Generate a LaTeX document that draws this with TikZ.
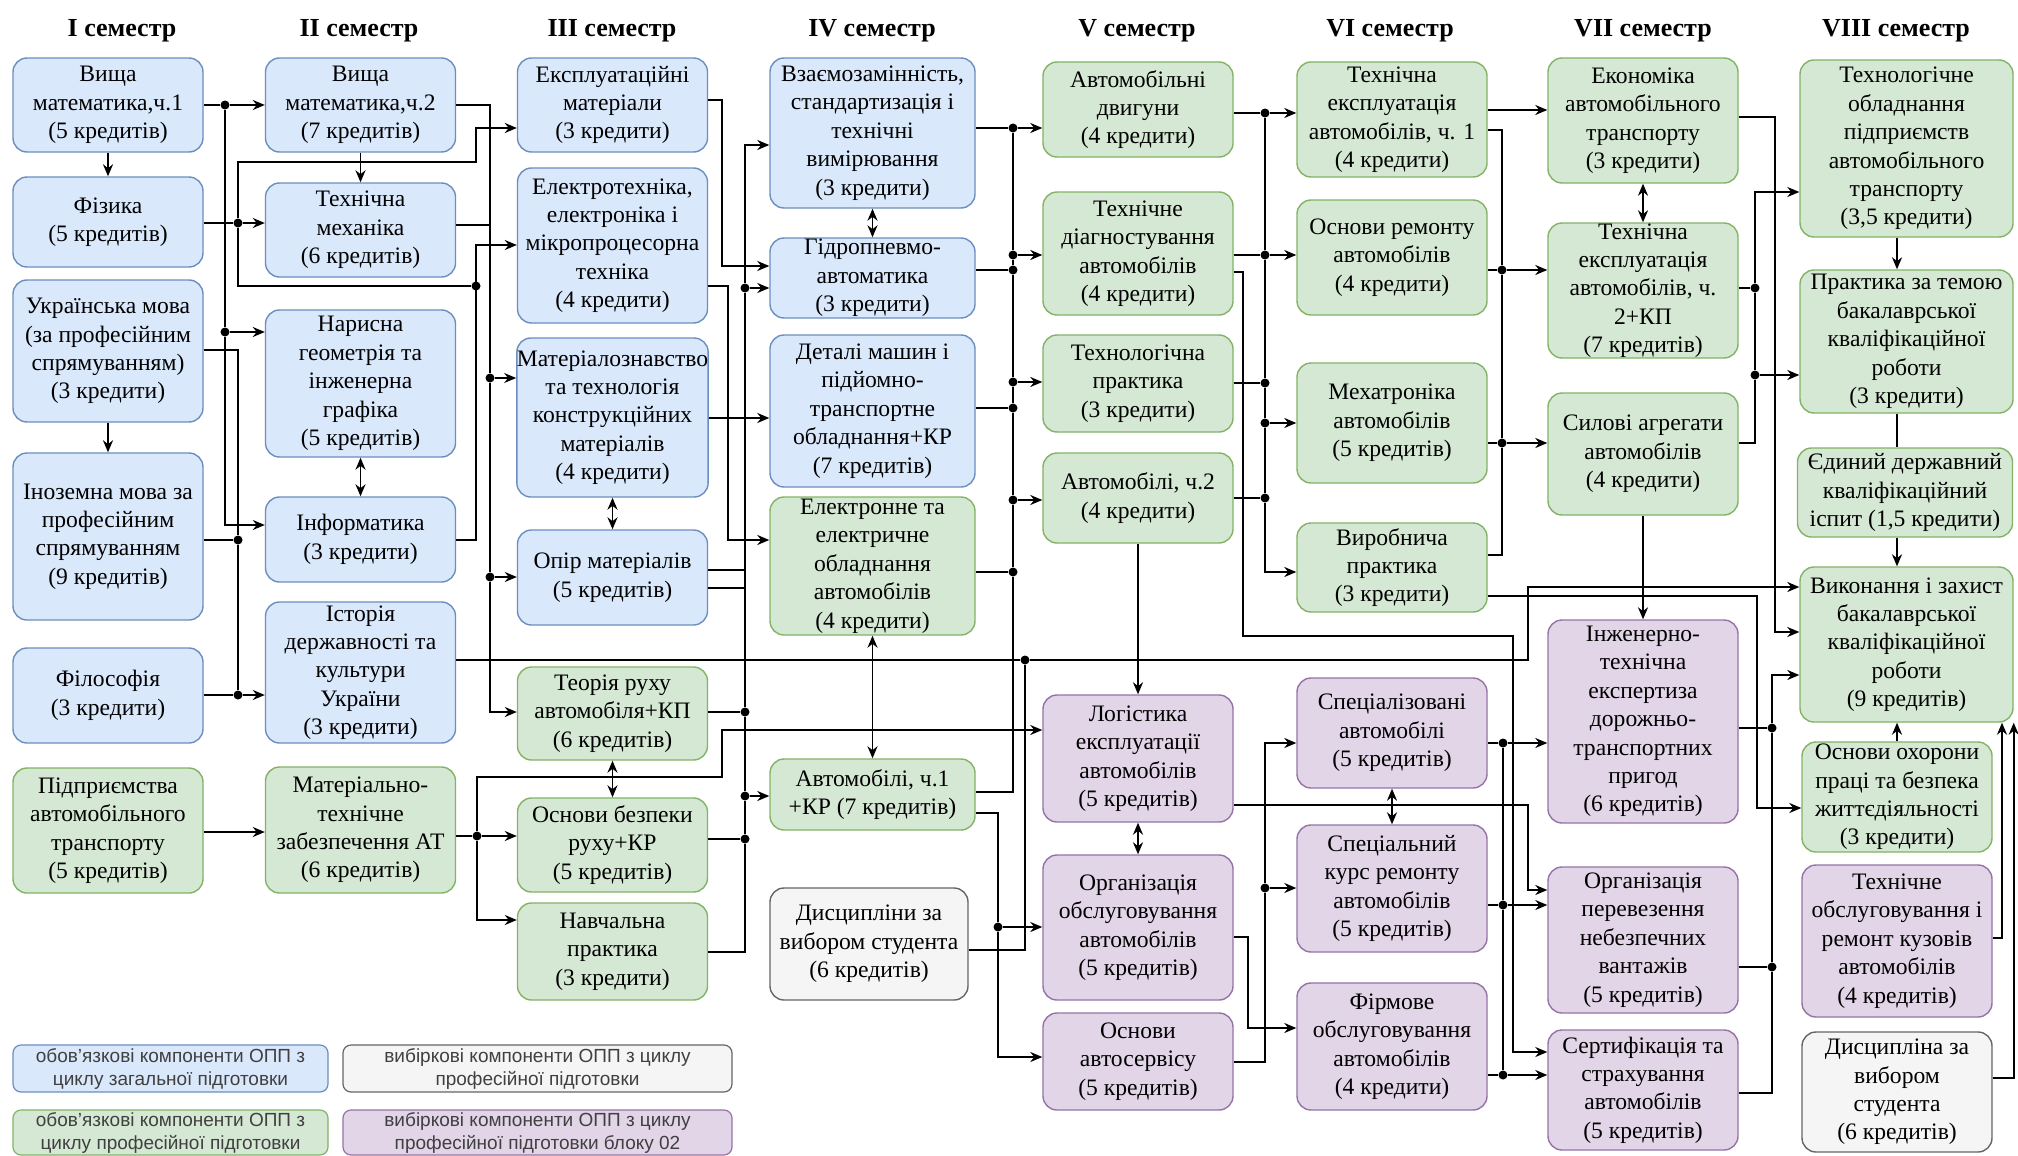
\documentclass[tikz,border=0pt]{standalone}
\usepackage{fontspec}
\setmainfont{Liberation Serif}
\setsansfont{Liberation Sans}
\usetikzlibrary{arrows.meta,positioning}
\definecolor{genFill}{HTML}{DAE8FC}
\definecolor{genLine}{HTML}{6C8EBF}
\definecolor{profFill}{HTML}{D5E8D4}
\definecolor{profLine}{HTML}{82B366}
\definecolor{vibFill}{HTML}{E1D5E7}
\definecolor{vibLine}{HTML}{9673A6}
\definecolor{freeFill}{HTML}{F5F5F5}
\definecolor{freeLine}{HTML}{666666}

\begin{document}
\begin{tikzpicture}[x=0.5pt,y=-0.5pt,
    box/.style={rounded corners=7pt, line width=0.7pt, align=center, inner sep=0pt,
      font=\fontsize{11.8}{14.2}\selectfont, minimum width=95pt},
    gen/.style={box, draw=genLine, fill=genFill},
    prof/.style={box, draw=profLine, fill=profFill},
    vib/.style={box, draw=vibLine, fill=vibFill},
    free/.style={box, draw=freeLine, fill=freeFill},
    hdr/.style={font=\fontsize{13}{15}\selectfont\bfseries},
    leg/.style={rounded corners=4pt, line width=0.6pt, align=center, inner sep=0pt,
      font=\sffamily\fontsize{9.5}{11.5}\selectfont, text=black!75},
    wire/.style={line width=0.9pt},
    jdot/.style={circle, fill, inner sep=0pt, minimum size=4.5pt},
    >={Stealth[length=6pt,width=5pt]}
  ]
  \fill[white] (0,0) rectangle (2018,1156);
  \useasboundingbox (0,0) rectangle (2018,1156);

  \node[hdr] (sem1) at (122,31) {I семестр};
  \node[hdr] (sem2) at (359,31) {II семестр};
  \node[hdr] (sem3) at (612,31) {III семестр};
  \node[hdr] (sem4) at (872,31) {IV семестр};
  \node[hdr] (sem5) at (1137,31) {V семестр};
  \node[hdr] (sem6) at (1390,31) {VI семестр};
  \node[hdr] (sem7) at (1643,31) {VII семестр};
  \node[hdr] (sem8) at (1896,31) {VIII семестр};

  \node[gen, minimum height=47pt] (vm1) at (108,105) {Вища\\математика,ч.1\\(5 кредитів)};
  \node[gen, minimum height=45pt] (fiz) at (108,222) {Фізика\\(5 кредитів)};
  \node[gen, minimum height=71pt] (ukr) at (108,351) {Українська мова\\(за професійним\\спрямуванням)\\(3 кредити)};
  \node[gen, minimum height=83.5pt] (inoz) at (108,536.5) {Іноземна мова за\\професійним\\спрямуванням\\(9 кредитів)};
  \node[gen, minimum height=47.5pt] (fil) at (108,695.5) {Філософія\\(3 кредити)};
  \node[prof, minimum height=62.5pt] (pidpr) at (108,830.5) {Підприємства\\автомобільного\\транспорту\\(5 кредитів)};

  \node[gen, minimum height=47pt] (vm2) at (360.5,105) {Вища\\математика,ч.2\\(7 кредитів)};
  \node[gen, minimum height=47pt] (tmech) at (360.5,230) {Технічна\\механіка\\(6 кредитів)};
  \node[gen, minimum height=73.5pt] (nar) at (360.5,383.5) {Нарисна\\геометрія та\\інженерна\\графіка\\(5 кредитів)};
  \node[gen, minimum height=42.5pt] (inf) at (360.5,539.5) {Інформатика\\(3 кредити)};
  \node[gen, minimum height=70.5pt] (ist) at (360.5,672.5) {Історія\\державності та\\культури\\України\\(3 кредити)};
  \node[prof, minimum height=63pt] (mattex) at (360.5,830) {Матеріально-\\технічне\\забезпечення АТ\\(6 кредитів)};

  \node[gen, minimum height=47pt] (ekspl) at (612.5,105) {Експлуатаційні\\матеріали\\(3 кредити)};
  \node[gen, minimum height=77.5pt] (elektr) at (612.5,245.5) {Електротехніка,\\електроніка і\\мікропроцесорна\\техніка\\(4 кредити)};
  \node[gen, minimum height=79.5pt] (matzn) at (612.5,417.5) {Матеріалознавство\\та технологія\\конструкційних\\матеріалів\\(4 кредити)};
  \node[gen, minimum height=47.5pt] (opir) at (612.5,577.5) {Опір матеріалів\\(5 кредитів)};
  \node[prof, minimum height=46.5pt] (teor) at (612.5,713.5) {Теорія руху\\автомобіля+КП\\(6 кредитів)};
  \node[prof, minimum height=47pt] (bezp) at (612.5,845) {Основи безпеки\\руху+КР\\(5 кредитів)};
  \node[prof, minimum height=48.5pt] (navch) at (612.5,951.5) {Навчальна\\практика\\(3 кредити)};

  \node[gen, minimum width=102.5pt, minimum height=75pt] (vzaem) at (872.5,133) {Взаємозамінність,\\стандартизація і\\технічні\\вимірювання\\(3 кредити)};
  \node[gen, minimum width=102.5pt, minimum height=40pt] (gidro) at (872.5,278) {Гідропневмо-\\автоматика\\(3 кредити)};
  \node[gen, minimum width=102.5pt, minimum height=76pt] (detal) at (872.5,411) {Деталі машин і\\підйомно-\\транспортне\\обладнання+КР\\(7 кредитів)};
  \node[prof, minimum width=102.5pt, minimum height=69pt] (elobl) at (872.5,566) {Електронне та\\електричне\\обладнання\\автомобілів\\(4 кредити)};
  \node[prof, minimum width=102.5pt, minimum height=35.5pt] (avto1) at (872.5,794.5) {Автомобілі, ч.1\\+КР (7 кредитів)};
  \node[free, minimum width=99pt, minimum height=56pt] (dysc4) at (869,944) {Дисципліни за\\вибором студента\\(6 кредитів)};

  \node[prof, minimum height=47.5pt] (dvyg) at (1138,109.5) {Автомобільні\\двигуни\\(4 кредити)};
  \node[prof, minimum height=61.5pt] (diag) at (1138,253.5) {Технічне\\діагностування\\автомобілів\\(4 кредити)};
  \node[prof, minimum height=48.5pt] (techpr) at (1138,383.5) {Технологічна\\практика\\(3 кредити)};
  \node[prof, minimum height=45pt] (avto2) at (1138,498) {Автомобілі, ч.2\\(4 кредити)};
  \node[vib, minimum height=63.5pt] (logist) at (1138,758.5) {Логістика\\експлуатації\\автомобілів\\(5 кредитів)};
  \node[vib, minimum height=72.5pt] (orgob) at (1138,927.5) {Організація\\обслуговування\\автомобілів\\(5 кредитів)};
  \node[vib, minimum height=48.5pt] (servis) at (1138,1061.5) {Основи\\автосервісу\\(5 кредитів)};

  \node[prof, minimum height=57.5pt] (teh1) at (1392,119.5) {Технічна\\експлуатація\\автомобілів, ч. 1\\(4 кредити)};
  \node[prof, minimum height=57.5pt] (remont) at (1392,257.5) {Основи ремонту\\автомобілів\\(4 кредити)};
  \node[prof, minimum height=60pt] (mehatr) at (1392,423) {Мехатроніка\\автомобілів\\(5 кредитів)};
  \node[prof, minimum height=44.5pt] (vyrob) at (1392,567.5) {Виробнича\\практика\\(3 кредити)};
  \node[vib, minimum height=55pt] (specav) at (1392,733) {Спеціалізовані\\автомобілі\\(5 кредитів)};
  \node[vib, minimum height=63.5pt] (speckurs) at (1392,888.5) {Спеціальний\\курс ремонту\\автомобілів\\(5 кредитів)};
  \node[vib, minimum height=63.5pt] (firm) at (1392,1046.5) {Фірмове\\обслуговування\\автомобілів\\(4 кредити)};

  \node[prof, minimum height=62.5pt] (ekon) at (1643,120.5) {Економіка\\автомобільного\\транспорту\\(3 кредити)};
  \node[prof, minimum height=67.5pt] (teh2) at (1643,290.5) {Технічна\\експлуатація\\автомобілів, ч.\\2+КП\\(7 кредитів)};
  \node[prof, minimum height=61pt] (sylovi) at (1643,454) {Силові агрегати\\автомобілів\\(4 кредити)};
  \node[vib, minimum height=101.5pt] (expert) at (1643,721.5) {Інженерно-\\технічна\\експертиза\\дорожньо-\\транспортних\\пригод\\(6 кредитів)};
  \node[vib, minimum height=73pt] (nebezp) at (1643,940) {Організація\\перевезення\\небезпечних\\вантажів\\(5 кредитів)};
  \node[vib, minimum height=60pt] (sertyf) at (1643,1090) {Сертифікація та\\страхування\\автомобілів\\(5 кредитів)};

  \node[prof, minimum width=106.5pt, minimum height=88.5pt] (tehobl) at (1906.5,148.5) {Технологічне\\обладнання\\підприємств\\автомобільного\\транспорту\\(3,5 кредити)};
  \node[prof, minimum width=106.5pt, minimum height=71.5pt] (praktyka) at (1906.5,341.5) {Практика за темою\\бакалаврської\\кваліфікаційної\\роботи\\(3 кредити)};
  \node[prof, minimum width=107.5pt, minimum height=44.5pt] (yedyn) at (1905,492.5) {Єдиний державний\\кваліфікаційний\\іспит (1,5 кредити)};
  \node[prof, minimum width=106.5pt, minimum height=77.5pt] (vykon) at (1906.5,644.5) {Виконання і захист\\бакалаврської\\кваліфікаційної\\роботи\\(9 кредитів)};
  \node[prof, minimum height=55pt] (ohorona) at (1897,797) {Основи охорони\\праці та безпека\\життєдіяльності\\(3 кредити)};
  \node[vib, minimum height=76pt] (kuzov) at (1897,941) {Технічне\\обслуговування і\\ремонт кузовів\\автомобілів\\(4 кредитів)};
  \node[free, minimum height=60pt] (dysc8) at (1897,1092) {Дисципліна за\\вибором\\студента\\(6 кредитів)};

  \node[leg, draw=genLine, fill=genFill, minimum width=157.5pt, minimum height=23.5pt] (lg1) at (170.5,1068.5) {обов'язкові компоненти ОПП з\\циклу загальної підготовки};
  \node[leg, draw=freeLine, fill=freeFill, minimum width=194.5pt, minimum height=23.5pt] (lg2) at (537.5,1068.5) {вибіркові компоненти ОПП з циклу\\професійної підготовки};
  \node[leg, draw=profLine, fill=profFill, minimum width=157.5pt, minimum height=22.5pt] (lg3) at (170.5,1132.5) {обов'язкові компоненти ОПП з\\циклу професійної підготовки};
  \node[leg, draw=vibLine, fill=vibFill, minimum width=194.5pt, minimum height=22.5pt] (lg4) at (537.5,1132.5) {вибіркові компоненти ОПП з циклу\\професійної підготовки блоку 02};

  \draw[wire,->] (vm1.south) -- (fiz.north);
  \draw[wire,->] (ukr.south) -- (inoz.north);
  \draw[wire,->] (vm2.south) -- (tmech.north);
  \draw[wire,<->] (nar.south) -- (inf.north);
  \draw[wire,<->] (matzn.south) -- (opir.north);
  \draw[wire,<->] (teor.south) -- (bezp.north);
  \draw[wire,<->] (vzaem.south) -- (gidro.north);
  \draw[wire,<->] (elobl.south) -- (avto1.north);
  \draw[wire,->] (avto2.south) -- (logist.north);
  \draw[wire,<->] (logist.south) -- (orgob.north);
  \draw[wire,<->] (specav.south) -- (speckurs.north);
  \draw[wire,<->] (ekon.south) -- (teh2.north);
  \draw[wire,->] (sylovi.south) -- (expert.north);
  \draw[wire,->] (tehobl.south -| ohorona) -- (praktyka.north -| ohorona);
  \draw[wire] (praktyka.south -| ohorona) -- (yedyn.north -| ohorona);
  \draw[wire,->] (yedyn.south -| ohorona) -- (vykon.north -| ohorona);
  \draw[wire,->] (ohorona.north) -- (vykon.south -| ohorona);

  \node[jdot] (a1) at (225,105) {};
  \node[jdot] (a2) at (225,332) {};
  \draw[wire] (vm1.east) -- (a1) -- (a2);
  \draw[wire,->] (a1) -- (vm2.west);
  \draw[wire,->] (a2) -- (nar.west |- a2);
  \draw[wire,->] (a2) |- (inf.west |- 0,525);

  \node[jdot] (b1) at (238,223) {};
  \node[jdot] (b2) at (476,286) {};
  \draw[wire] (fiz.east |- b1) -- (b1);
  \draw[wire,->] (b1) -- (tmech.west |- b1);
  \draw[wire,->] (b1) |- (476,162) |- (ekspl.west |- 0,128);
  \draw[wire] (b1) |- (b2);
  \draw[wire,->] (inf.east |- 0,540) -| (476,245) -- (elektr.west |- 0,245);

  \node[jdot] (c1) at (238,540) {};
  \node[jdot] (c2) at (238,695) {};
  \draw[wire] (ukr.east |- 0,350) -| (c1);
  \draw[wire] (inoz.east |- c1) -- (c1) -- (c2);
  \draw[wire] (fil.east |- c2) -- (c2);
  \draw[wire,->] (c2) -- (ist.west |- c2);

  \node[jdot] (d1) at (490,378) {};
  \node[jdot] (d2) at (490,577) {};
  \draw[wire] (vm2.east) -| (d1);
  \draw[wire] (tmech.east |- 0,225) -- (490,225);
  \draw[wire,->] (d1) -- (matzn.west |- d1);
  \draw[wire] (d1) -- (d2);
  \draw[wire,->] (d2) -- (opir.west |- d2);
  \draw[wire,->] (d2) |- (teor.west |- 0,712);

  \node[jdot] (e1) at (1025,660) {};
  \draw[wire] (ist.east |- e1) -- (e1);
  \draw[wire,->] (e1) -| (1528,587) -- (vykon.west |- 0,587);
  \draw[wire] (dysc4.east |- 0,950) -| (e1);

  \node[jdot] (f1) at (477,836) {};
  \draw[wire,->] (pidpr.east |- 0,832) -- (mattex.west |- 0,832);
  \draw[wire] (mattex.east |- f1) -- (f1);
  \draw[wire,->] (f1) -- (bezp.west |- f1);
  \draw[wire,->] (f1) |- (navch.west |- 0,920);
  \draw[wire,->] (f1) |- (722,777) |- (logist.west |- 0,730);

  \draw[wire,->] (ekspl.east |- 0,100) -| (722,266) -- (gidro.west |- 0,266);
  \draw[wire,->] (elektr.east |- 0,286) -| (728,540) -- (elobl.west |- 0,540);
  \draw[wire,->] (matzn.east |- 0,418) -- (detal.west |- 0,418);

  \node[jdot] (g1) at (745,288) {};
  \node[jdot] (g2) at (745,712) {};
  \node[jdot] (g3) at (745,796) {};
  \node[jdot] (g4) at (745,839) {};
  \draw[wire,->] (navch.east |- 0,952) -| (g4) -- (g3) -- (g2) -- (g1) |- (vzaem.west |- 0,145);
  \draw[wire,->] (g1) -- (gidro.west |- g1);
  \draw[wire,->] (g3) -- (avto1.west |- g3);
  \draw[wire] (teor.east |- g2) -- (g2);
  \draw[wire] (bezp.east |- g4) -- (g4);
  \draw[wire] (opir.east |- 0,570) -- (745,570);
  \draw[wire] (opir.east |- 0,588) -- (745,588);

  \node[jdot] (h1) at (1013,128) {};
  \node[jdot] (h2) at (1013,255) {};
  \node[jdot] (h3) at (1013,270) {};
  \node[jdot] (h4) at (1013,382) {};
  \node[jdot] (h5) at (1013,408) {};
  \node[jdot] (h6) at (1013,500) {};
  \node[jdot] (h7) at (1013,572) {};
  \draw[wire] (vzaem.east |- h1) -- (h1) -- (h2) -- (h3) -- (h4) -- (h5) -- (h6) -- (h7) |- (avto1.east |- 0,792);
  \draw[wire,->] (h1) -- (dvyg.west |- h1);
  \draw[wire,->] (h2) -- (diag.west |- h2);
  \draw[wire] (gidro.east |- h3) -- (h3);
  \draw[wire,->] (h4) -- (techpr.west |- h4);
  \draw[wire] (detal.east |- h5) -- (h5);
  \draw[wire,->] (h6) -- (avto2.west |- h6);
  \draw[wire] (elobl.east |- h7) -- (h7);

  \node[jdot] (k1) at (998,927) {};
  \draw[wire] (avto1.east |- 0,813) -| (k1);
  \draw[wire,->] (k1) -- (orgob.west |- k1);
  \draw[wire,->] (k1) |- (servis.west |- 0,1057);

  \node[jdot] (m1) at (1265,113) {};
  \node[jdot] (m2) at (1265,255) {};
  \node[jdot] (m3) at (1265,383) {};
  \node[jdot] (m4) at (1265,423) {};
  \node[jdot] (m5) at (1265,498) {};
  \draw[wire,->] (dvyg.east |- m1) -- (m1) -- (m2) -- (m3) -- (m4) -- (m5) |- (vyrob.west |- 0,572);
  \draw[wire,->] (m1) -- (teh1.west |- m1);
  \draw[wire] (diag.east |- m2) -- (m2);
  \draw[wire,->] (m2) -- (remont.west |- m2);
  \draw[wire] (techpr.east |- m3) -- (m3);
  \draw[wire,->] (m4) -- (mehatr.west |- m4);
  \draw[wire] (avto2.east |- m5) -- (m5);

  \draw[wire,->] (diag.east |- 0,272) -| (1243,636) -| (1513,1052) -- (sertyf.west |- 0,1052);

  \node[jdot] (n1) at (1265,888) {};
  \draw[wire,->] (servis.east |- 0,1062) -| (n1) |- (specav.west |- 0,743);
  \draw[wire,->] (n1) -- (speckurs.west |- n1);
  \draw[wire,->] (orgob.east |- 0,937) -| (1248,1028) -- (firm.west |- 0,1028);
  \draw[wire,->] (logist.east |- 0,805) -| (1528,890) -- (nebezp.west |- 0,890);

  \draw[wire,->] (teh1.east |- 0,110) -- (ekon.west |- 0,110);
  \node[jdot] (p1) at (1502,270) {};
  \node[jdot] (p2) at (1502,443) {};
  \draw[wire] (teh1.east |- 0,130) -| (p1) -- (p2) |- (vyrob.east |- 0,555);
  \draw[wire] (remont.east |- p1) -- (p1);
  \draw[wire,->] (p1) -- (teh2.west |- p1);
  \draw[wire] (mehatr.east |- p2) -- (p2);
  \draw[wire,->] (p2) -- (sylovi.west |- p2);
  \draw[wire,->] (vyrob.east |- 0,596) -| (1757,808) -- (ohorona.west |- 0,808);

  \node[jdot] (q1) at (1503,743) {};
  \node[jdot] (q2) at (1503,905) {};
  \node[jdot] (q3) at (1503,1075) {};
  \draw[wire] (specav.east |- q1) -- (q1) -- (q2) -- (q3);
  \draw[wire,->] (q1) -- (expert.west |- q1);
  \draw[wire] (speckurs.east |- q2) -- (q2);
  \draw[wire,->] (q2) -- (nebezp.west |- q2);
  \draw[wire] (firm.east |- q3) -- (q3);
  \draw[wire,->] (q3) -- (sertyf.west |- q3);

  \draw[wire,->] (ekon.east |- 0,117) -| (1775,632) -- (vykon.west |- 0,632);
  \node[jdot] (r1) at (1755,288) {};
  \node[jdot] (r2) at (1755,375) {};
  \draw[wire,->] (sylovi.east |- 0,443) -| (r2) -- (r1) |- (tehobl.west |- 0,192);
  \draw[wire] (teh2.east |- r1) -- (r1);
  \draw[wire,->] (r2) -- (praktyka.west |- r2);

  \node[jdot] (s1) at (1772,728) {};
  \node[jdot] (s2) at (1772,967) {};
  \draw[wire,->] (sertyf.east |- 0,1093) -| (s2) -- (s1) |- (vykon.west |- 0,675);
  \draw[wire] (expert.east |- s1) -- (s1);
  \draw[wire] (nebezp.east |- s2) -- (s2);

  \draw[wire,->] (kuzov.east |- 0,938) -| (vykon.south -| 2002,0);
  \draw[wire,->] (dysc8.east |- 0,1078) -| (vykon.south east);
\end{tikzpicture}
\end{document}
